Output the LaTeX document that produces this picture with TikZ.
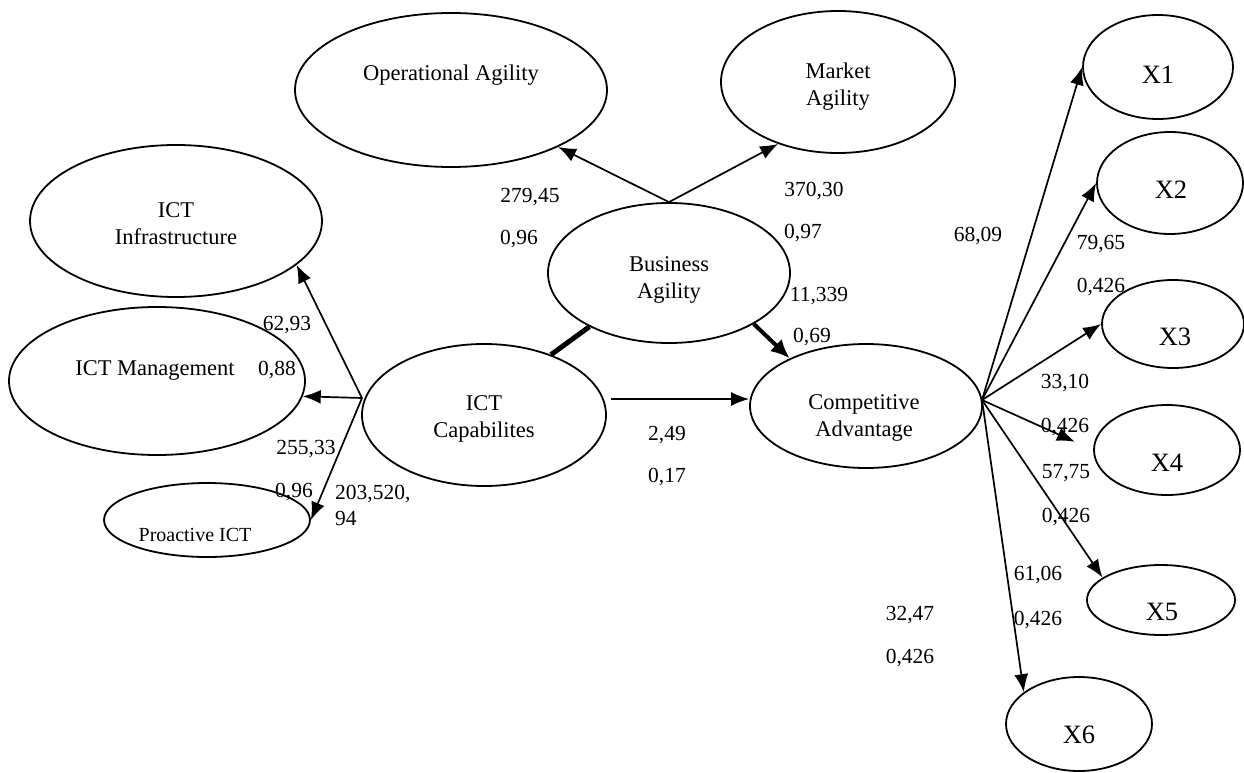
\documentclass[tikz,border=0pt]{standalone}
\usepackage{fontspec}
\setmainfont{Liberation Serif}
\usetikzlibrary{shapes.geometric,arrows.meta,calc}
\begin{document}
\begin{tikzpicture}[x=1pt,y=-1pt,
  ell/.style={draw,ellipse,line width=1.8pt,inner sep=0pt},
  txt/.style={align=center,inner sep=0pt,font=\fontsize{22.5}{27}\selectfont},
  xtxt/.style={inner sep=0pt,font=\fontsize{26.5}{30}\selectfont},
  lab/.style={inner sep=0pt,font=\fontsize{21.5}{26}\selectfont},
  arr/.style={line width=1.7pt,-{Latex[length=18pt,width=14pt]}},
  thickarr/.style={line width=4pt,-{Latex[length=19pt,width=17pt]}},
]
\fill[white] (0,0) rectangle (1244,773);
\useasboundingbox (0,0) rectangle (1244,773);

% ellipses
\node[ell,minimum width=312pt,minimum height=154pt] (oa) at (451,90) {};
\node[ell,minimum width=234pt,minimum height=142pt] (ma) at (838,82) {};
\node[ell,minimum width=292pt,minimum height=152pt] (ii) at (176,221) {};
\node[ell,minimum width=296pt,minimum height=148pt] (im) at (157,381) {};
\node[ell,minimum width=206pt,minimum height=74pt] (pi) at (207,520) {};
\node[ell,minimum width=242pt,minimum height=140pt] (ba) at (669,273) {};
\node[ell,minimum width=244pt,minimum height=142pt] (cap) at (484,415) {};
\node[ell,minimum width=232pt,minimum height=124pt] (ca) at (866,406) {};
\node[ell,minimum width=150pt,minimum height=104pt] (x1) at (1158,67) {};
\node[ell,minimum width=146pt,minimum height=102pt] (x2) at (1170,183) {};
\node[ell,minimum width=142pt,minimum height=88pt] (x3) at (1173,324) {};
\node[ell,minimum width=146pt,minimum height=90pt] (x4) at (1167,450) {};
\node[ell,minimum width=148pt,minimum height=70pt] (x5) at (1161,600) {};
\node[ell,minimum width=146pt,minimum height=94pt] (x6) at (1079,724) {};

% texts inside ellipses
\node[txt] (oaT) at (451,75) {Operational Agility};
\node[txt] (maT) at (838,87) {Market\\Agility};
\node[txt] (iiT) at (176,224) {ICT\\Infrastructure};
\node[txt] (imT) at (155,370) {ICT Management};
\node[txt,font=\fontsize{20}{24}\selectfont] (piT) at (195,535) {Proactive ICT};
\node[txt] (baT) at (669,280) {Business\\Agility};
\node[txt] (capT) at (484,419) {ICT\\Capabilites};
\node[txt] (caT) at (864,418) {Competitive\\Advantage};
\node[xtxt] (x1T) at (1158,75) {X1};
\node[xtxt] (x2T) at (1171,190) {X2};
\node[xtxt] (x3T) at (1175,337) {X3};
\node[xtxt] (x4T) at (1167,463) {X4};
\node[xtxt] (x5T) at (1162,612) {X5};
\node[xtxt] (x6T) at (1079,735) {X6};

% helper points
\coordinate (capW) at (362,398);
\coordinate (capE) at (611,399);
\coordinate (caE) at (982,400);

% connectors
\draw[arr] (ba.north) -- (oa.332);
\draw[arr] (ba.north) -- (ma.226);
\draw[arr] (capW) -- (ii.340);
\draw[arr] (capW) -- (im.354);
\draw[arr] (capW) -- (pi.east);
\draw[line width=5pt] (cap.42) -- (ba.214);
\draw[thickarr] (ba.329) -- (ca.148);
\draw[arr] (capE) -- (capE -| ca.west);
\draw[arr] (caE) -- (x1.west);
\draw[arr] (caE) -- (x2.west);
\draw[arr] (caE) -- (x3.west);
\draw[arr,shorten >=20pt] (caE) -- (x4.west);
\draw[arr] (caE) -- (x5.159);
\draw[arr] (caE) -- (x6.150);

% labels
\node[lab] (l1) at (530,197) {279,45};
\node[lab] (l2) at (519,239) {0,96};
\node[lab] (l3) at (814,191) {370,30};
\node[lab] (l4) at (803,233) {0,97};
\node[lab] (l5) at (819,296) {11,339};
\node[lab] (l6) at (812,337) {0,69};
\node[lab] (l7) at (978,236) {68,09};
\node[lab] (l8) at (1101,244) {79,65};
\node[lab] (l9) at (1101,287) {0,426};
\node[lab] (l10) at (1065,383) {33,10};
\node[lab] (l11) at (1065,427) {0,426};
\node[lab] (l12) at (1066,473) {57,75};
\node[lab] (l13) at (1066,517) {0,426};
\node[lab] (l14) at (1038,575) {61,06};
\node[lab] (l15) at (1038,620) {0,426};
\node[lab] (l16) at (910,615) {32,47};
\node[lab] (l17) at (910,658) {0,426};
\node[lab] (l18) at (667,435) {2,49};
\node[lab] (l19) at (667,477) {0,17};
\node[lab] (l20) at (287,325) {62,93};
\node[lab] (l21) at (277,370) {0,88};
\node[lab] (l22) at (306,449) {255,33};
\node[lab] (l23) at (294,492) {0,96};
\node[lab,align=left,anchor=west] (l24) at (335,505) {203,520,\\94};
\end{tikzpicture}
\end{document}
